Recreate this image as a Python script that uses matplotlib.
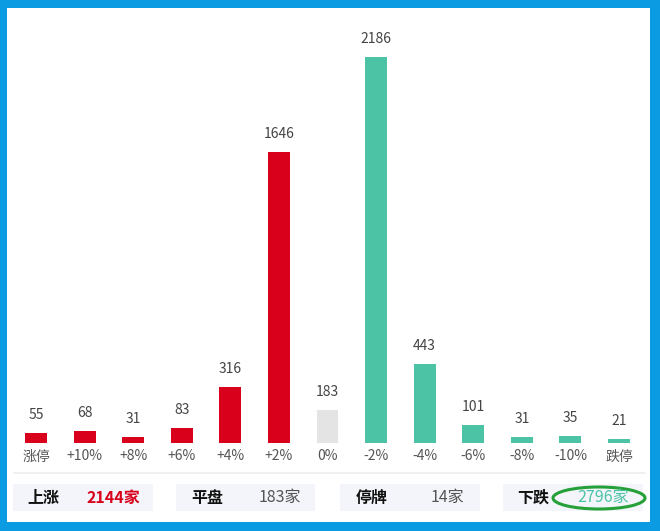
import matplotlib
matplotlib.use('Agg')
import matplotlib.pyplot as plt
import matplotlib.patches as mpatches

# ── Data ──────────────────────────────────────────────────────────────────────
categories = ['涨停', '+10%', '+8%', '+6%', '+4%', '+2%', '0%',
              '-2%', '-4%', '-6%', '-8%', '-10%', '跌停']
counts = [55, 68, 31, 83, 316, 1646, 183, 2186, 443, 101, 31, 35, 21]
groups = ['up'] * 6 + ['flat'] + ['down'] * 6

summary_names = ['上涨', '平盘', '停牌', '下跌']
summary_values = ['2144家', '183家', '14家', '2796家']

# ── Design tokens ─────────────────────────────────────────────────────────────
BORDER = '#0b9be3'
RED = '#d9001b'
TEAL = '#4cc3a5'
GRAY_BAR = '#e4e4e4'
BOX = '#f3f5fa'
TEXT = '#444444'
CJK = ['Noto Sans CJK SC', 'DejaVu Sans']
bar_colors = {'up': RED, 'flat': GRAY_BAR, 'down': TEAL}

plt.rcParams['font.family'] = CJK

W, H = 660, 531
fig = plt.figure(figsize=(W / 100, H / 100), dpi=100)
fig.patch.set_facecolor(BORDER)


def fx(x):
    return x / W


def fy(y):
    return 1 - y / H


# white panel inside the blue frame
fig.add_artist(mpatches.Rectangle((fx(7), fy(522)), fx(650) - fx(7), (522 - 8) / H,
                                  transform=fig.transFigure, facecolor='white',
                                  edgecolor='none', zorder=0))

# ── Bar chart ─────────────────────────────────────────────────────────────────
left, right = 11.7, 643.3
base, ymax = 442.5, 2400
scale = 0.1764
ax = fig.add_axes([fx(left), fy(base), (right - left) / W, ymax * scale / H])
ax.set_facecolor('none')
ax.set_xlim(-0.5, len(categories) - 0.5)
ax.set_ylim(0, ymax)
for s in ax.spines.values():
    s.set_visible(False)
ax.set_yticks([])

xs = list(range(len(categories)))
ax.bar(xs, counts, width=0.45, color=[bar_colors[g] for g in groups], zorder=3)
for x, v in zip(xs, counts):
    ax.annotate(str(v), (x, v), xytext=(0, 18), textcoords='offset pixels',
                ha='center', va='center', fontsize=10, color=TEXT)

ax.set_xticks(xs)
ax.set_xticklabels(categories, fontsize=10, color='#555555')
ax.tick_params(axis='x', length=0, pad=5)

# separator
fig.add_artist(plt.Line2D([fx(14), fx(645)], [fy(473), fy(473)],
                          transform=fig.transFigure, color='#eeeeee', linewidth=1.2))

# ── Summary boxes ─────────────────────────────────────────────────────────────
boxes = [(13, 153), (176, 315), (340, 480), (503, 643)]
name_x = [43, 207, 372, 533]
val_x = [113, 280, 447, 603]
val_style = [(RED, 'bold'), ('#555555', 'normal'), ('#555555', 'normal'), (TEAL, 'normal')]
for (x0, x1), nx, vx, name, val, (c, w) in zip(boxes, name_x, val_x, summary_names,
                                               summary_values, val_style):
    fig.add_artist(mpatches.Rectangle((fx(x0), fy(511)), (x1 - x0) / W, 27 / H,
                                      transform=fig.transFigure, facecolor=BOX,
                                      edgecolor='none'))
    fig.text(fx(nx), fy(497.5), name, ha='center', va='center', fontsize=11.5,
             fontweight='bold', color='#111111')
    fig.text(fx(vx), fy(497.5), val, ha='center', va='center', fontsize=11.5,
             fontweight=w, color=c)

# green highlight around the falling count
fig.add_artist(mpatches.Ellipse((fx(599), fy(498)), 92 / W, 22 / H,
                                transform=fig.transFigure, facecolor='none',
                                edgecolor='#26a038', linewidth=2.2))

fig.savefig('out.png', dpi=100, facecolor=BORDER)
